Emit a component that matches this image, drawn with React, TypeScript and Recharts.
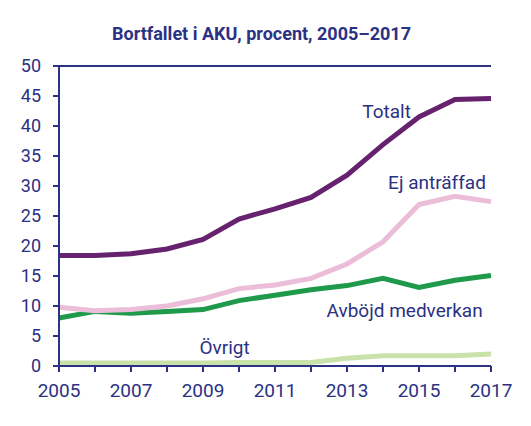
import { LineChart, Line, XAxis, YAxis, ReferenceDot, ReferenceLine } from 'recharts';

const years = [2005, 2006, 2007, 2008, 2009, 2010, 2011, 2012, 2013, 2014, 2015, 2016, 2017];
const totalt = [18.4, 18.4, 18.7, 19.5, 21.1, 24.5, 26.2, 28.1, 31.8, 36.9, 41.5, 44.4, 44.6];
const ejAntraffad = [9.8, 9.2, 9.4, 10.0, 11.2, 12.9, 13.5, 14.6, 17.0, 20.7, 26.9, 28.3, 27.4];
const avbojd = [8.0, 9.1, 8.8, 9.1, 9.4, 10.9, 11.8, 12.7, 13.4, 14.6, 13.1, 14.3, 15.1];
const ovrigt = [0.5, 0.5, 0.5, 0.5, 0.5, 0.6, 0.6, 0.6, 1.3, 1.7, 1.7, 1.7, 2.0];
const yTicks = [0, 5, 10, 15, 20, 25, 30, 35, 40, 45, 50];

const navy = '#2b3183';
const font = 'Roboto, "Noto Sans", sans-serif';

const data = years.map((year, i) => ({
  year,
  totalt: totalt[i],
  ej: ejAntraffad[i],
  avbojd: avbojd[i],
  ovrigt: ovrigt[i],
}));

// series labels placed in data space
const labels = [
  { text: 'Totalt', x: 2014.1, y: 42.4 },
  { text: 'Ej anträffad', x: 2015.5, y: 30.6 },
  { text: 'Avböjd medverkan', x: 2014.6, y: 9.25 },
  { text: 'Övrigt', x: 2009.6, y: 3.2 },
];

export default function App() {
  return (
    <div style={{ position: 'absolute', left: 0, top: 0, width: 531, height: 426, background: '#fff', fontFamily: font }}>
      <div
        style={{
          position: 'absolute',
          top: 24,
          left: 0,
          width: 523,
          lineHeight: '20px',
          textAlign: 'center',
          fontWeight: 700,
          fontSize: 18,
          color: navy,
        }}
      >
        Bortfallet i AKU, procent, 2005–2017
      </div>
      <LineChart width={531} height={426} data={data} margin={{ top: 66, right: 40, left: 0, bottom: 30 }}>
        <XAxis
          dataKey="year"
          type="number"
          domain={[2005, 2017]}
          ticks={years}
          interval={0}
          tickFormatter={(v: number) => (v % 2 === 1 ? String(v) : '')}
          height={30}
          stroke={navy}
          strokeWidth={2}
          tickSize={6}
          tickMargin={12}
          tick={{ fill: navy, fontSize: 19, fontFamily: font }}
        />
        <YAxis
          domain={[0, 50]}
          ticks={yTicks}
          interval={0}
          width={59}
          stroke={navy}
          strokeWidth={2}
          tickSize={6}
          tickMargin={12}
          tick={{ fill: navy, fontSize: 18, fontFamily: font }}
        />
        <YAxis yAxisId="right" domain={[0, 50]} orientation="right" tick={false} tickLine={false} width={0} stroke={navy} strokeWidth={2} />
        <ReferenceLine y={50} stroke={navy} strokeWidth={2} />
        <Line dataKey="ovrigt" stroke="#c8e2aa" strokeWidth={5} dot={false} isAnimationActive={false} />
        <Line dataKey="avbojd" stroke="#1e9a4a" strokeWidth={5} dot={false} isAnimationActive={false} />
        <Line dataKey="ej" stroke="#ebbdd8" strokeWidth={5} dot={false} isAnimationActive={false} />
        <Line dataKey="totalt" stroke="#66226e" strokeWidth={5} dot={false} isAnimationActive={false} />
        {labels.map((l) => (
          <ReferenceDot
            key={l.text}
            x={l.x}
            y={l.y}
            r={0}
            stroke="none"
            fill="none"
            label={{ value: l.text, position: 'center', fill: navy, fontSize: 19, fontFamily: font }}
          />
        ))}
      </LineChart>
    </div>
  );
}
